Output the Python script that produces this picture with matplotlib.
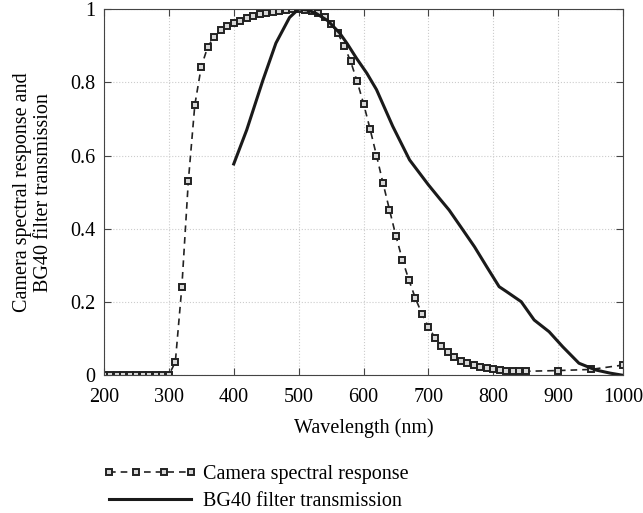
import numpy as np
import matplotlib
matplotlib.use('Agg')
import matplotlib.pyplot as plt

plt.rcParams['font.family'] = ['Liberation Serif', 'DejaVu Serif']

# Camera spectral response (sampled every 10 nm, then sparse tail)
cam_wl = [200, 210, 220, 230, 240, 250, 260, 270, 280, 290, 300,
          310, 320, 330, 340, 350, 360, 370, 380, 390, 400,
          410, 420, 430, 440, 450, 460, 470, 480, 490, 500,
          510, 520, 530, 540, 550, 560, 570, 580, 590, 600,
          610, 620, 630, 640, 650, 660, 670, 680, 690, 700,
          710, 720, 730, 740, 750, 760, 770, 780, 790, 800,
          810, 820, 830, 840, 850, 900, 950, 1000]
cam_resp = [0, 0, 0, 0, 0, 0, 0, 0, 0, 0, 0,
            0.037, 0.241, 0.53, 0.738, 0.843, 0.897, 0.924, 0.942, 0.953, 0.962,
            0.968, 0.975, 0.981, 0.986, 0.99, 0.992, 0.995, 0.997, 0.999, 1.0,
            0.998, 0.994, 0.988, 0.977, 0.96, 0.935, 0.90, 0.858, 0.803, 0.742,
            0.673, 0.60, 0.525, 0.452, 0.38, 0.315, 0.26, 0.21, 0.168, 0.132,
            0.103, 0.08, 0.064, 0.051, 0.04, 0.034, 0.029, 0.024, 0.02, 0.017,
            0.015, 0.013, 0.012, 0.011, 0.011, 0.013, 0.016, 0.028]

# BG40 filter transmission
bg_wl = [400, 420, 445, 465, 486, 500, 515, 527, 545, 563, 575, 589, 605,
         620, 645, 671, 700, 717, 732, 750, 771, 790, 809, 820, 843, 863,
         886, 907, 932, 958, 980, 1000]
bg_trans = [0.577, 0.67, 0.806, 0.907, 0.977, 1.0, 0.997, 0.988, 0.968, 0.935,
            0.905, 0.866, 0.825, 0.78, 0.68, 0.588, 0.52, 0.483, 0.451, 0.405,
            0.351, 0.296, 0.242, 0.229, 0.201, 0.151, 0.119, 0.078, 0.033,
            0.0145, 0.006, 0.0]

fs = 14.5

fig = plt.figure(figsize=(6.43, 5.13), dpi=100)
ax = fig.add_axes([0.1617, 0.2684, 0.8073, 0.714])

ax.plot(cam_wl, cam_resp, color='#222222', linestyle=(0, (4, 3)), linewidth=1.2,
        marker='s', markersize=4.2, markerfacecolor='#d8d8d8',
        markeredgecolor='#222222', markeredgewidth=1.4,
        label='Camera spectral response')
ax.plot(bg_wl, bg_trans, color='#1a1a1a', linewidth=2.2,
        label='BG40 filter transmission')

ax.set_xlim(200, 1000)
ax.set_ylim(0, 1)
ax.set_xticks(np.arange(200, 1001, 100))
ax.set_yticks([0, 0.2, 0.4, 0.6, 0.8, 1])
ax.set_yticklabels(['0', '0.2', '0.4', '0.6', '0.8', '1'])
ax.tick_params(direction='in', top=True, right=True, labelsize=fs, length=5,
               color='#444444')
ax.tick_params(axis='x', pad=9)
ax.tick_params(axis='y', pad=6)
ax.grid(True, linestyle=':', color='#cccccc', linewidth=0.8)
for s in ax.spines.values():
    s.set_color('#444444')

ax.set_xlabel('Wavelength (nm)', fontsize=fs, labelpad=8)
ax.set_ylabel('Camera spectral response and\nBG40 filter transmission',
              fontsize=fs, linespacing=1.15)
ax.yaxis.set_label_coords(-0.098, 0.5)

fig.legend(loc='upper left', bbox_to_anchor=(0.160, 0.094),
           frameon=False, fontsize=fs, handlelength=4.7, numpoints=4,
           labelspacing=0.4, handletextpad=0.25, borderpad=0, borderaxespad=0)

fig.savefig('out.png', dpi=100)
